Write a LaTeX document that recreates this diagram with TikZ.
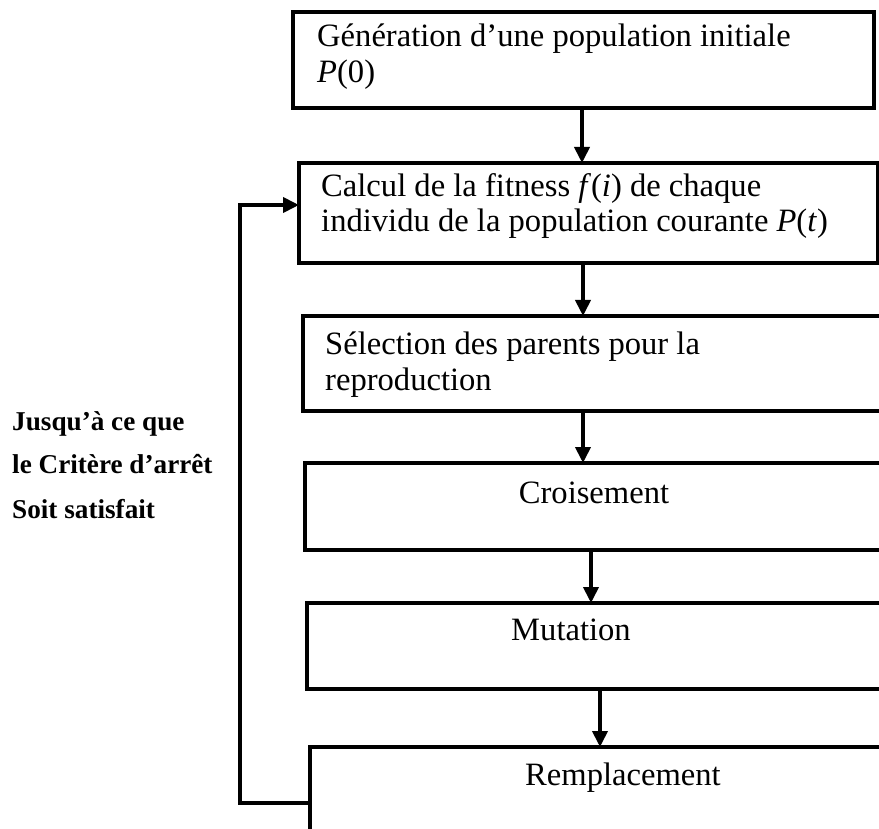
\documentclass[tikz,border=0pt]{standalone}
\usepackage{fontspec}
\setmainfont{Liberation Serif}
\usetikzlibrary{arrows.meta}
\begin{document}
\begin{tikzpicture}[x=1pt,y=-1pt,
  box/.style={draw, line width=3.3pt, rectangle, anchor=north west, inner sep=0pt, outer sep=0pt},
  flow/.style={line width=3.8pt, -{Triangle[length=16pt,width=15pt]}},
  txt/.style={anchor=base west, inner sep=0pt, font=\fontsize{32.6}{36}\selectfont},
  ctxt/.style={anchor=base, inner sep=0pt, font=\fontsize{32.6}{36}\selectfont},
  note/.style={anchor=base west, inner sep=0pt, font=\fontsize{27.2}{30}\selectfont\bfseries}]
\useasboundingbox (0,0) rectangle (879,829);
\clip (0,0) rectangle (879,829);

% process boxes (the lower ones run past the right and bottom edges)
\node[box, minimum width=581pt, minimum height=96pt] (gen) at (293,12) {};
\node[box, minimum width=579pt, minimum height=100pt] (fit) at (299,163) {};
\node[box, minimum width=620pt, minimum height=95pt] (sel) at (303,316) {};
\node[box, minimum width=620pt, minimum height=87pt] (cro) at (305,463) {};
\node[box, minimum width=620pt, minimum height=86pt] (mut) at (307,603) {};
\node[box, minimum width=620pt, minimum height=140pt] (rep) at (310,747) {};

% box texts
\node[txt] (t1a) at (317,47) {Génération d’une population initiale};
\node[txt] (t1b) at (317,83) {\textit{P}(0)};
\node[txt] (t2a) at (321,197) {Calcul de la fitness \textit{f}(\textit{i}) de chaque};
\node[txt] (t2b) at (321,232) {individu de la population courante \textit{P}(\textit{t})};
\node[txt] (t3a) at (325,355) {Sélection des parents pour la};
\node[txt] (t3b) at (325,390) {reproduction};
\node[ctxt] (t4) at (594,503) {Croisement};
\node[ctxt] (t5) at (571,640) {Mutation};
\node[ctxt] (t6) at (623,785) {Remplacement};

% loop label
\node[note] (n1) at (12,430) {Jusqu’à ce que};
\node[note] (n2) at (12,473) {le Critère d’arrêt};
\node[note] (n3) at (12,518) {Soit satisfait};

% downward arrows between steps
\coordinate (a1) at (582,0);
\coordinate (a2) at (583,0);
\coordinate (a3) at (583,0);
\coordinate (a4) at (591,0);
\coordinate (a5) at (600,0);
\draw[flow] (gen.south -| a1) -- (fit.north -| a1);
\draw[flow] (fit.south -| a2) -- (sel.north -| a2);
\draw[flow] (sel.south -| a3) -- (cro.north -| a3);
\draw[flow] (cro.south -| a4) -- (mut.north -| a4);
\draw[flow] (mut.south -| a5) -- (rep.north -| a5);

% feedback loop back to the fitness step
\coordinate (lx) at (240,0);
\coordinate (ly) at (0,803);
\coordinate (ty) at (0,205);
\draw[flow] (rep.west |- ly) -| (lx |- ty) -- (fit.west |- ty);
\end{tikzpicture}
\end{document}
